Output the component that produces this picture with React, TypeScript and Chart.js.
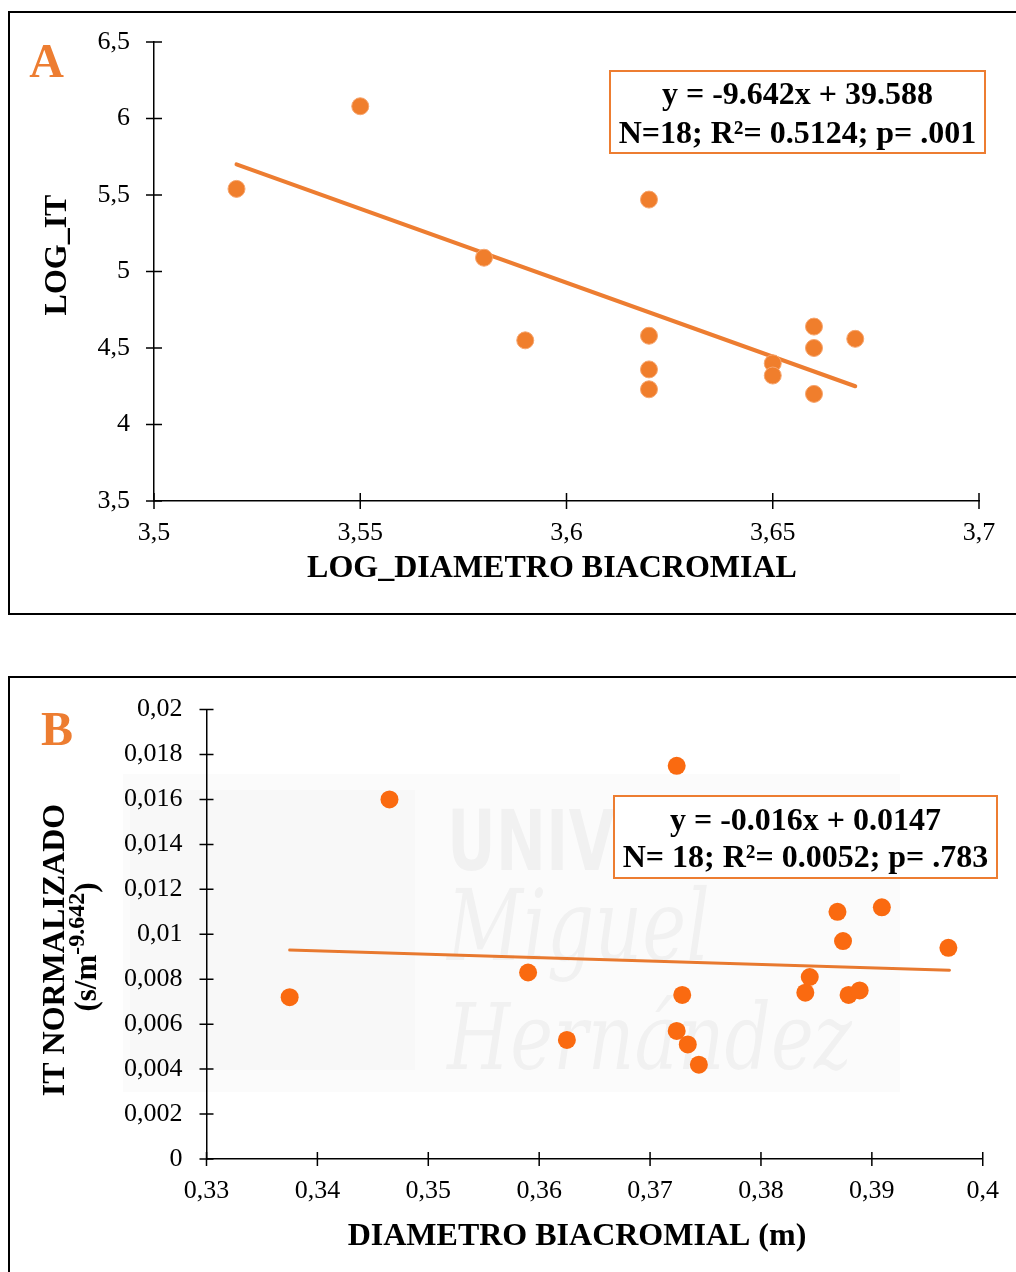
import React, { useEffect, useRef } from 'react';
import { Chart, registerables } from 'chart.js';

Chart.register(...registerables);

// ---------- Panel A data ----------
const A_X = [3.52, 3.55, 3.58, 3.59, 3.62, 3.62, 3.62, 3.62, 3.65, 3.65, 3.66, 3.66, 3.66, 3.67];
const A_Y = [5.54, 6.08, 5.09, 4.55, 5.47, 4.58, 4.36, 4.23, 4.40, 4.32, 4.64, 4.50, 4.20, 4.56];
const A_TREND_X = [3.52, 3.67];
const A_TREND_Y = [5.70, 4.25];
const A_X_TICKS = [3.5, 3.55, 3.6, 3.65, 3.7];
const A_Y_TICKS = [3.5, 4, 4.5, 5, 5.5, 6, 6.5];
const A_LETTER = 'A';
const A_X_TITLE = 'LOG_DIAMETRO BIACROMIAL';
const A_Y_TITLE = 'LOG_IT';
const A_EQ = ['y = -9.642x + 39.588', 'N=18; R\u00B2= 0.5124; p= .001'];

// ---------- Panel B data ----------
const B_X = [0.3375, 0.3465, 0.359, 0.3625, 0.3724, 0.3729, 0.3724, 0.3734, 0.3744, 0.3840, 0.3844, 0.3869, 0.3874, 0.3879, 0.3889, 0.3909, 0.3969];
const B_Y = [0.0072, 0.0160, 0.0083, 0.0053, 0.0175, 0.0073, 0.0057, 0.0051, 0.0042, 0.0074, 0.0081, 0.0110, 0.0097, 0.0073, 0.0075, 0.0112, 0.0094];
const B_TREND_X = [0.3375, 0.397];
const B_TREND_Y = [0.0093, 0.0084];
const B_X_TICKS = [0.33, 0.34, 0.35, 0.36, 0.37, 0.38, 0.39, 0.4];
const B_Y_TICKS = [0, 0.002, 0.004, 0.006, 0.008, 0.01, 0.012, 0.014, 0.016, 0.018, 0.02];
const B_LETTER = 'B';
const B_X_TITLE = 'DIAMETRO BIACROMIAL (m)';
const B_Y_TITLE = 'IT NORMALIZADO';
const B_Y_UNIT = ['(s/m', '-9.642', ')'];
const B_EQ = ['y = -0.016x + 0.0147', 'N= 18; R\u00B2= 0.0052; p= .783'];
const WATERMARK = ['UNIVERSITAS', 'Miguel', 'Hern\u00E1ndez'];

const FONT = "'Liberation Serif', 'Times New Roman', serif";
const ORANGE = '#ED7D31';

function fmt(v: any) {
  return String(+Number(v).toFixed(4)).replace('.', ',');
}

function txt(ctx: CanvasRenderingContext2D, s: string, x: number, y: number, font: string, color = '#000', align: CanvasTextAlign = 'center', rot = 0) {
  ctx.save();
  ctx.translate(x, y);
  if (rot) ctx.rotate(rot);
  ctx.font = font;
  ctx.fillStyle = color;
  ctx.textAlign = align;
  ctx.textBaseline = 'alphabetic';
  ctx.fillText(s, 0, 0);
  ctx.restore();
}

function eqBox(ctx: CanvasRenderingContext2D, x1: number, y1: number, x2: number, y2: number, lines: string[], base1: number, base2: number) {
  ctx.save();
  ctx.fillStyle = '#fff';
  ctx.fillRect(x1, y1, x2 - x1, y2 - y1);
  ctx.strokeStyle = ORANGE;
  ctx.lineWidth = 2;
  ctx.strokeRect(x1, y1, x2 - x1, y2 - y1);
  ctx.restore();
  const cx = (x1 + x2) / 2;
  txt(ctx, lines[0], cx, base1, `bold 32px ${FONT}`);
  txt(ctx, lines[1], cx, base2, `bold 32px ${FONT}`);
}

function crossTicks(len: number) {
  return {
    id: 'crossTicks',
    afterDraw(chart: any) {
      const { ctx, chartArea, scales } = chart;
      ctx.save();
      ctx.strokeStyle = '#000';
      ctx.lineWidth = 1.5;
      ctx.beginPath();
      scales.x.ticks.forEach((t: any) => {
        const p = scales.x.getPixelForValue(t.value);
        ctx.moveTo(p, chartArea.bottom - len);
        ctx.lineTo(p, chartArea.bottom + len);
      });
      scales.y.ticks.forEach((t: any) => {
        const p = scales.y.getPixelForValue(t.value);
        ctx.moveTo(chartArea.left - len, p);
        ctx.lineTo(chartArea.left + len, p);
      });
      ctx.stroke();
      ctx.restore();
    },
  };
}

function axis(min: number, max: number, ticks: number[], fit: (s: any) => void, padding: number) {
  return {
    type: 'linear',
    min,
    max,
    afterBuildTicks: (s: any) => {
      s.ticks = ticks.map((v) => ({ value: v }));
    },
    afterFit: fit,
    grid: { display: false, drawTicks: false, tickLength: 0 },
    border: { display: true, color: '#000', width: 1.5 },
    ticks: {
      padding,
      autoSkip: false,
      maxRotation: 0,
      color: '#000',
      font: { family: FONT, size: 26 },
      callback: (v: any) => fmt(v),
    },
  };
}

function configA() {
  return {
    type: 'scatter',
    data: {
      datasets: [
        {
          data: A_X.map((x, i) => ({ x, y: A_Y[i] })),
          backgroundColor: '#F07E2C',
          borderColor: '#F6A56E',
          borderWidth: 1,
          pointRadius: 8.5,
          order: 0,
        },
        {
          data: A_TREND_X.map((x, i) => ({ x, y: A_TREND_Y[i] })),
          showLine: true,
          borderColor: ORANGE,
          borderWidth: 4,
          pointRadius: 0,
          borderCapStyle: 'round',
          order: 1,
        },
      ],
    },
    options: {
      responsive: false,
      animation: false,
      devicePixelRatio: 1,
      layout: { padding: { top: 42, right: 37, left: 0, bottom: 0 } },
      plugins: { legend: { display: false }, tooltip: { enabled: false } },
      scales: {
        x: axis(3.5, 3.7, A_X_TICKS, (s: any) => { s.height = 111; }, 17),
        y: axis(3.5, 6.5, A_Y_TICKS, (s: any) => { s.width = 154; }, 24),
      },
    },
    plugins: [
      crossTicks(8),
      {
        id: 'textsA',
        afterDraw(chart: any) {
          const ctx = chart.ctx as CanvasRenderingContext2D;
          txt(ctx, A_LETTER, 46.5, 77, `bold 48px ${FONT}`, ORANGE);
          txt(ctx, A_Y_TITLE, 65.5, 255, `bold 32px ${FONT}`, '#000', 'center', -Math.PI / 2);
          txt(ctx, A_X_TITLE, 552, 577, `bold 32px ${FONT}`);
          eqBox(ctx, 610, 71, 985, 153, A_EQ, 104, 143);
        },
      },
    ],
  };
}

function configB() {
  return {
    type: 'scatter',
    data: {
      datasets: [
        {
          data: B_X.map((x, i) => ({ x, y: B_Y[i] })),
          backgroundColor: '#FA6A10',
          borderColor: '#FA6A10',
          borderWidth: 0,
          pointRadius: 9,
          order: 0,
        },
        {
          data: B_TREND_X.map((x, i) => ({ x, y: B_TREND_Y[i] })),
          showLine: true,
          borderColor: '#E8792F',
          borderWidth: 3,
          pointRadius: 0,
          borderCapStyle: 'round',
          order: 1,
        },
      ],
    },
    options: {
      responsive: false,
      animation: false,
      devicePixelRatio: 1,
      layout: { padding: { top: 36.5, right: 32, left: 0, bottom: 0 } },
      plugins: { legend: { display: false }, tooltip: { enabled: false } },
      scales: {
        x: axis(0.33, 0.4, B_X_TICKS, (s: any) => { s.height = 113; }, 17),
        y: axis(0, 0.02, B_Y_TICKS, (s: any) => { s.width = 206.5; }, 24),
      },
    },
    plugins: [
      {
        id: 'watermark',
        beforeDraw(chart: any) {
          const ctx = chart.ctx as CanvasRenderingContext2D;
          ctx.save();
          ctx.fillStyle = 'rgba(0,0,0,0.014)';
          ctx.fillRect(123, 104, 777, 318);
          ctx.fillStyle = 'rgba(0,0,0,0.016)';
          ctx.fillRect(130, 120, 285, 280);
          const fit = (s: string, font: string, x: number, y: number, w: number) => {
            ctx.font = font;
            const m = ctx.measureText(s).width;
            ctx.save();
            ctx.translate(x, y);
            ctx.scale(w / m, 1);
            ctx.fillText(s, 0, 0);
            ctx.restore();
          };
          ctx.fillStyle = 'rgba(0,0,0,0.045)';
          ctx.textBaseline = 'alphabetic';
          ctx.textAlign = 'left';
          fit(WATERMARK[0], `bold 84px 'DejaVu Sans', sans-serif`, 447, 200, 447);
          fit(WATERMARK[1], `italic 100px 'DejaVu Serif', serif`, 447, 290, 263);
          fit(WATERMARK[2], `italic 92px 'DejaVu Serif', serif`, 447, 399, 405);
          ctx.restore();
        },
      },
      crossTicks(7),
      {
        id: 'textsB',
        afterDraw(chart: any) {
          const ctx = chart.ctx as CanvasRenderingContext2D;
          txt(ctx, B_LETTER, 57, 75, `bold 48px ${FONT}`, ORANGE);
          txt(ctx, B_Y_TITLE, 64, 280, `bold 32px ${FONT}`, '#000', 'center', -Math.PI / 2);
          // unit line with superscript
          ctx.save();
          ctx.translate(96, 277);
          ctx.rotate(-Math.PI / 2);
          ctx.fillStyle = '#000';
          ctx.textBaseline = 'alphabetic';
          ctx.textAlign = 'left';
          const main = `bold 31px ${FONT}`;
          const sup = `bold 24px ${FONT}`;
          ctx.font = main;
          const wa = ctx.measureText(B_Y_UNIT[0]).width;
          const wc = ctx.measureText(B_Y_UNIT[2]).width;
          ctx.font = sup;
          const wb = ctx.measureText(B_Y_UNIT[1]).width;
          const x0 = -(wa + wb + wc) / 2;
          ctx.font = main;
          ctx.fillText(B_Y_UNIT[0], x0, 0);
          ctx.font = sup;
          ctx.fillText(B_Y_UNIT[1], x0 + wa, -12);
          ctx.font = main;
          ctx.fillText(B_Y_UNIT[2], x0 + wa + wb, 0);
          ctx.restore();
          txt(ctx, B_X_TITLE, 577, 575, `bold 32px ${FONT}`);
          eqBox(ctx, 614, 126, 997, 208, B_EQ, 160, 197);
        },
      },
    ],
  };
}

function ChartCanvas({ make, top, height }: { make: () => any; top: number; height: number }) {
  const ref = useRef<HTMLCanvasElement>(null);
  useEffect(() => {
    const c = new Chart(ref.current as HTMLCanvasElement, make());
    return () => c.destroy();
  }, []);
  return (
    <canvas
      ref={ref}
      width={1016}
      height={height}
      style={{ position: 'absolute', left: 0, top, width: 1016, height, display: 'block' }}
    />
  );
}

export default function App() {
  return (
    <div style={{ position: 'absolute', left: 0, top: 0, width: 1016, height: 1272, overflow: 'hidden', background: '#fff' }}>
      <div style={{ position: 'absolute', left: 8, top: 11, width: 1100, height: 604, border: '2px solid #000', boxSizing: 'border-box' }} />
      <div style={{ position: 'absolute', left: 8, top: 676, width: 1100, height: 700, border: '2px solid #000', boxSizing: 'border-box' }} />
      <ChartCanvas make={configA} top={0} height={612} />
      <ChartCanvas make={configB} top={670} height={602} />
    </div>
  );
}
